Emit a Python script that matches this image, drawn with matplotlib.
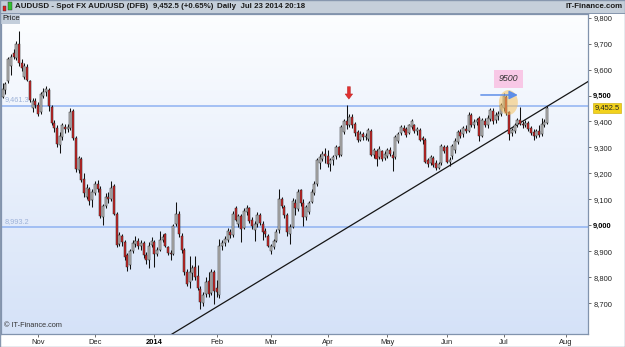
import matplotlib
matplotlib.use('Agg')
import matplotlib.pyplot as plt
import numpy as np
import pandas as pd
from matplotlib.patches import Rectangle, Ellipse, Polygon
from matplotlib.collections import LineCollection
from matplotlib.ticker import FuncFormatter

plt.rcParams['font.family'] = ['Liberation Sans', 'DejaVu Sans']

# ---------------- data ----------------
start_date = '2013-10-15'
end_date = '2014-07-23'

open_ = [9495, 9520, 9555, 9615, 9665, 9645, 9700, 9625, 9572, 9610,
         9555, 9450, 9478, 9465, 9435, 9500, 9515, 9520, 9455, 9395,
         9375, 9310, 9340, 9380, 9370, 9375, 9440, 9338, 9212, 9255,
         9178, 9110, 9140, 9098, 9125, 9160, 9140, 9030, 9075, 9108,
         9100, 9150, 9045, 8928, 8960, 8935, 8885, 8845, 8900, 8928,
         8938, 8922, 8930, 8885, 8865, 8925, 8935, 8890, 8905, 8945,
         8965, 8915, 8895, 8890, 9005, 9045, 8960, 8905, 8818, 8780,
         8815, 8838, 8805, 8755, 8700, 8735, 8785, 8740, 8820, 8760,
         8730, 8920, 8930, 8945, 8975, 8962, 9065, 9005, 9036, 8990,
         9050, 9065, 9020, 8980, 9005, 9040, 9005, 8978, 8960, 8900,
         8918, 8940, 8980, 9100, 9070, 9040, 8965, 8995, 9085, 9062,
         9135, 9085, 9030, 9050, 9090, 9125, 9160, 9240, 9255, 9275,
         9265, 9235, 9250, 9265, 9300, 9272, 9360, 9400, 9385, 9418,
         9390, 9360, 9330, 9350, 9340, 9332, 9365, 9272, 9285, 9262,
         9285, 9258, 9268, 9290, 9272, 9262, 9325, 9355, 9375, 9372,
         9355, 9378, 9385, 9362, 9368, 9335, 9330, 9250, 9240, 9258,
         9240, 9222, 9240, 9300, 9300, 9245, 9265, 9290, 9322, 9360,
         9350, 9372, 9365, 9425, 9385, 9398, 9415, 9345, 9400, 9385,
         9410, 9440, 9405, 9420, 9430, 9450, 9495, 9438, 9355, 9365,
         9385, 9405, 9390, 9385, 9395, 9375, 9360, 9345, 9365, 9350,
         9388, 9395]

high = [9548, 9552, 9650, 9660, 9680, 9710, 9750, 9640, 9625, 9620,
        9560, 9490, 9492, 9475, 9515, 9530, 9535, 9530, 9462, 9405,
        9385, 9360, 9395, 9390, 9392, 9450, 9448, 9345, 9266, 9262,
        9200, 9160, 9148, 9140, 9172, 9175, 9150, 9082, 9125, 9130,
        9172, 9160, 9050, 8975, 8968, 8942, 8895, 8908, 8942, 8960,
        8950, 8945, 8938, 8898, 8935, 8955, 8945, 8915, 8978, 8965,
        8972, 8920, 8905, 9005, 9089, 9055, 8970, 8912, 8830, 8880,
        8845, 8882, 8845, 8765, 8742, 8800, 8820, 8830, 8828, 8790,
        8946, 8945, 8958, 8990, 8985, 9055, 9075, 9045, 9045, 9065,
        9080, 9072, 9030, 9015, 9050, 9048, 9015, 8990, 8965, 8928,
        8948, 8985, 9138, 9110, 9078, 9048, 9005, 9106, 9100, 9140,
        9140, 9100, 9080, 9095, 9140, 9170, 9258, 9275, 9285, 9298,
        9290, 9258, 9270, 9310, 9305, 9385, 9410, 9463, 9428, 9428,
        9398, 9368, 9362, 9358, 9355, 9375, 9370, 9298, 9292, 9305,
        9290, 9285, 9298, 9300, 9285, 9348, 9360, 9385, 9385, 9378,
        9392, 9410, 9392, 9380, 9375, 9345, 9338, 9258, 9270, 9265,
        9250, 9245, 9312, 9310, 9308, 9262, 9312, 9335, 9368, 9370,
        9382, 9385, 9438, 9432, 9410, 9415, 9422, 9415, 9412, 9425,
        9452, 9451, 9438, 9440, 9470, 9508, 9502, 9442, 9375, 9395,
        9415, 9457, 9400, 9405, 9402, 9382, 9372, 9370, 9385, 9412,
        9408, 9460]

low = [9490, 9505, 9548, 9580, 9640, 9635, 9615, 9595, 9565, 9555,
       9475, 9435, 9450, 9420, 9430, 9490, 9500, 9440, 9385, 9360,
       9300, 9278, 9330, 9355, 9358, 9368, 9330, 9205, 9200, 9165,
       9110, 9100, 9080, 9070, 9115, 9130, 9028, 9000, 9065, 9085,
       9092, 9038, 8918, 8920, 8922, 8868, 8822, 8830, 8892, 8915,
       8910, 8905, 8875, 8852, 8835, 8915, 8838, 8880, 8900, 8935,
       8915, 8885, 8865, 8885, 8998, 8955, 8895, 8810, 8765, 8760,
       8790, 8790, 8750, 8678, 8690, 8725, 8725, 8730, 8695, 8725,
       8720, 8905, 8920, 8935, 8950, 8955, 9015, 8995, 8934, 8985,
       9040, 9008, 8985, 8940, 8995, 9000, 8945, 8955, 8915, 8888,
       8910, 8935, 8972, 9065, 9028, 8960, 8927, 8990, 9040, 9055,
       9075, 8997, 9020, 9045, 9085, 9118, 9150, 9215, 9248, 9240,
       9225, 9208, 9232, 9255, 9262, 9265, 9350, 9372, 9378, 9375,
       9345, 9320, 9325, 9330, 9330, 9325, 9265, 9260, 9227, 9255,
       9248, 9250, 9260, 9265, 9208, 9255, 9318, 9348, 9358, 9342,
       9350, 9370, 9355, 9348, 9325, 9315, 9240, 9225, 9232, 9225,
       9212, 9215, 9232, 9278, 9238, 9230, 9255, 9280, 9315, 9335,
       9342, 9355, 9358, 9378, 9375, 9385, 9325, 9340, 9378, 9375,
       9402, 9392, 9395, 9405, 9422, 9440, 9425, 9329, 9345, 9355,
       9378, 9385, 9375, 9378, 9365, 9348, 9329, 9335, 9340, 9345,
       9380, 9390]

close = [9525, 9545, 9642, 9650, 9650, 9700, 9625, 9605, 9615, 9560,
         9483, 9480, 9462, 9430, 9505, 9515, 9525, 9458, 9395, 9375,
         9315, 9345, 9385, 9370, 9378, 9437, 9338, 9215, 9258, 9175,
         9125, 9145, 9095, 9130, 9160, 9140, 9035, 9075, 9110, 9100,
         9145, 9045, 8925, 8962, 8935, 8878, 8840, 8900, 8930, 8938,
         8922, 8932, 8885, 8865, 8920, 8940, 8890, 8905, 8945, 8955,
         8920, 8895, 8888, 8997, 9045, 8965, 8905, 8820, 8775, 8820,
         8835, 8800, 8758, 8704, 8730, 8780, 8735, 8820, 8745, 8742,
         8920, 8930, 8948, 8978, 8962, 9045, 9022, 9035, 8985, 9055,
         9068, 9015, 8998, 9005, 9040, 9008, 8975, 8965, 8922, 8920,
         8940, 8975, 9100, 9075, 9040, 8975, 8995, 9095, 9065, 9130,
         9085, 9030, 9070, 9085, 9130, 9160, 9250, 9262, 9275, 9265,
         9235, 9250, 9262, 9302, 9270, 9378, 9400, 9385, 9418, 9385,
         9355, 9330, 9352, 9340, 9345, 9368, 9272, 9290, 9255, 9295,
         9255, 9275, 9290, 9275, 9260, 9340, 9352, 9378, 9365, 9348,
         9385, 9402, 9362, 9372, 9330, 9328, 9245, 9235, 9262, 9232,
         9222, 9235, 9305, 9285, 9245, 9250, 9305, 9325, 9360, 9345,
         9375, 9362, 9425, 9385, 9398, 9405, 9345, 9405, 9385, 9415,
         9445, 9400, 9425, 9430, 9462, 9500, 9432, 9350, 9368, 9385,
         9405, 9390, 9385, 9395, 9372, 9355, 9345, 9362, 9348, 9390,
         9398, 9452.5]

month_ticks = ['2013-11-01', '2013-12-02', '2014-01-01', '2014-02-03', '2014-03-03',
               '2014-04-01', '2014-05-01', '2014-06-02', '2014-07-01', '2014-08-01']
month_labels = ['Nov', 'Dec', '2014', 'Feb', 'Mar', 'Apr', 'May', 'Jun', 'Jul', 'Aug']
price_ticks = [8700, 8800, 8900, 9000, 9100, 9200, 9300, 9400, 9500, 9600, 9700, 9800]
bold_ticks = [9000, 9500]
level_lines = [9461.3, 8993.2]
level_labels = ['9,461.3', '8,993.2']
trend_dates = ['2014-01-23', '2014-07-23']
trend_prices = [8641, 9458]
last_price = 9452.5
target_label = '9500'
target_date = '2014-07-01'
target_price = 9502

# ---------------- layout ----------------
W, H = 625, 347
def fx(px):
    return px / W
def fy(py):
    return 1 - py / H

fig = plt.figure(figsize=(W / 100, H / 100), dpi=100)
fig.patch.set_facecolor('white')

full = pd.bdate_range(start_date, '2014-08-29')
dates = pd.bdate_range(start_date, end_date)
def pos(d):
    return full.get_loc(pd.Timestamp(d))
xs = np.array([pos(d) for d in dates])

ax = fig.add_axes([fx(1), fy(334), fx(588) - fx(1), fy(13.5) - fy(334)])
x0, x1 = -0.66, 216.1
y0, y1 = 8581, 9816

# gradient background
grad = np.linspace(0, 1, 256).reshape(-1, 1)
top = np.array([0.99, 0.995, 1.0])
bot = np.array([0.835, 0.886, 0.972])
img = top[None, None, :] * (1 - grad[:, :, None]) + bot[None, None, :] * grad[:, :, None]
ax.imshow(img, extent=[x0, x1, y0, y1], origin='upper', aspect='auto', zorder=0)

# horizontal levels
for lv in level_lines:
    ax.axhline(lv, color='#8fb2f2', lw=1.1, zorder=1)
for lv, lb in zip(level_lines, level_labels):
    ax.text(0.5, lv + 8, lb, fontsize=5.3, color='#9db2d8', ha='left', va='bottom', zorder=2)

# trend line
tx = [pos(d) for d in trend_dates]
slope = (trend_prices[1] - trend_prices[0]) / (tx[1] - tx[0])
xx = np.array([x0, x1 + 5])
ax.plot(xx, trend_prices[0] + slope * (xx - tx[0]), color='#151515', lw=0.9, zorder=3)

# candles
wicks = [[(x, l), (x, h)] for x, l, h in zip(xs, low, high)]
ax.add_collection(LineCollection(wicks, colors='#111111', linewidths=0.75, zorder=4))
bw = 0.74
for x, o, c in zip(xs, open_, close):
    up = c >= o
    b = min(o, c)
    hgt = max(abs(c - o), 2.5)
    ax.add_patch(Rectangle((x - bw / 2, b), bw, hgt,
                           facecolor='#c2c2c2' if up else '#d02525',
                           edgecolor='#222222', linewidth=0.35, zorder=5))

# red down arrow over the April high (drawn as block arrow in data units)
ax_x, ax_top, ax_tip = 127.8, 9534, 9486
shaft_w, head_w, head_h = 0.55, 1.4, 20
ax.add_patch(Polygon([(ax_x - shaft_w, ax_top), (ax_x + shaft_w, ax_top),
                      (ax_x + shaft_w, ax_tip + head_h), (ax_x + head_w, ax_tip + head_h),
                      (ax_x, ax_tip), (ax_x - head_w, ax_tip + head_h),
                      (ax_x - shaft_w, ax_tip + head_h)],
                     closed=True, facecolor='#e23030', edgecolor='#b01818', lw=0.3, zorder=6))

tp = pos(target_date)
ax.add_patch(Ellipse((tp + 1.7, 9473), 7.0, 96, facecolor='#f6c260', alpha=0.55,
                     edgecolor='none', zorder=6))
ax.annotate('', xy=(191.2, target_price), xytext=(175.5, target_price),
            arrowprops=dict(arrowstyle='-|>,head_width=0.25,head_length=0.5',
                            color='#5e8ee8', lw=1.1), zorder=7)
ax.text(tp + 1.7, 9564, target_label, fontsize=6.4, style='italic', color='#333333',
        ha='center', va='center', zorder=8,
        bbox=dict(boxstyle='square,pad=0.5', fc='#f8c8e6', ec='none'))

ax.text(0.5, 8600, '\u00a9 IT-Finance.com', fontsize=5.3, color='#333333',
        ha='left', va='bottom', zorder=8)

ax.set_xlim(x0, x1)
ax.set_ylim(y0, y1)

# axes styling
for s in ax.spines.values():
    s.set_color('#8193ad')
    s.set_linewidth(0.9)
ax.yaxis.tick_right()
ax.set_yticks(price_ticks)
ax.yaxis.set_major_formatter(FuncFormatter(lambda v, p: f'{int(v):,}'))
ax.tick_params(axis='y', direction='out', length=2.5, width=0.6, color='#555555',
               labelsize=5.4, pad=1.2, labelcolor='#222222')
for lab, v in zip(ax.get_yticklabels(), price_ticks):
    if v in bold_ticks:
        lab.set_fontweight('bold')
        lab.set_color('#000000')

ax.set_xticks([pos(d) for d in month_ticks])
ax.set_xticklabels(month_labels)
ax.tick_params(axis='x', direction='out', length=2.5, width=0.6, color='#555555',
               labelsize=5.4, pad=0.8, labelcolor='#222222')
for lab, t in zip(ax.get_xticklabels(), month_labels):
    if t == '2014':
        lab.set_fontweight('bold')
        lab.set_color('#000000')

# last price tag on right axis
ax.annotate('9,452.5', xy=(1.0, last_price), xycoords=('axes fraction', 'data'),
            xytext=(4.5, 0), textcoords='offset points', fontsize=5.4, color='#222222',
            ha='left', va='center', annotation_clip=False, zorder=9,
            bbox=dict(boxstyle='square,pad=0.18', fc='#f2d21c', ec='#c8a800', lw=0.4))

# header bar
fig.patches.append(Rectangle((0, fy(13.5)), 1, 13.5 / H, transform=fig.transFigure,
                             facecolor='#c5cfda', edgecolor='none', zorder=0))
fig.patches.append(Rectangle((0, fy(13.5)), 1, 0.8 / H, transform=fig.transFigure,
                             facecolor='#8797ae', edgecolor='none', zorder=1))
# tiny candle icon
fig.patches.append(Rectangle((fx(2.5), fy(11)), 3.5 / W, 5 / H, transform=fig.transFigure,
                             facecolor='#e02020', edgecolor='#333333', lw=0.3, zorder=2))
fig.patches.append(Rectangle((fx(8), fy(10)), 3.5 / W, 8 / H, transform=fig.transFigure,
                             facecolor='#30c030', edgecolor='#333333', lw=0.3, zorder=2))

yh = fy(6.8)
hsize = 5.7
fig.text(fx(15), yh, 'AUDUSD - Spot FX AUD/USD (DFB)', fontsize=hsize, weight='bold',
         va='center', ha='left', color='#1a1a1a')
fig.text(fx(153), yh, '9,452.5 (+0.65%)', fontsize=hsize, weight='bold',
         va='center', ha='left', color='#1a1a1a')
fig.text(fx(217), yh, 'Daily  Jul 23 2014 20:18', fontsize=hsize, weight='bold',
         va='center', ha='left', color='#1a1a1a')
fig.text(fx(623), yh, 'IT-Finance.com', fontsize=hsize, weight='bold',
         va='center', ha='right', color='#1a1a1a')

# "Price" tag
fig.patches.append(Rectangle((fx(1), fy(24)), 19 / W, 10.5 / H, transform=fig.transFigure,
                             facecolor='#c3cedb', edgecolor='none', zorder=3))
fig.text(fx(2.5), fy(19), 'Price', fontsize=5.6, va='center', ha='left',
         color='#1a1a1a', zorder=4)

# outer frame
fig.patches.append(Rectangle((0, 0), 1, 1, transform=fig.transFigure, fill=False,
                             edgecolor='#8797ae', lw=1.0, zorder=5))

fig.savefig('out.png', dpi=100)
